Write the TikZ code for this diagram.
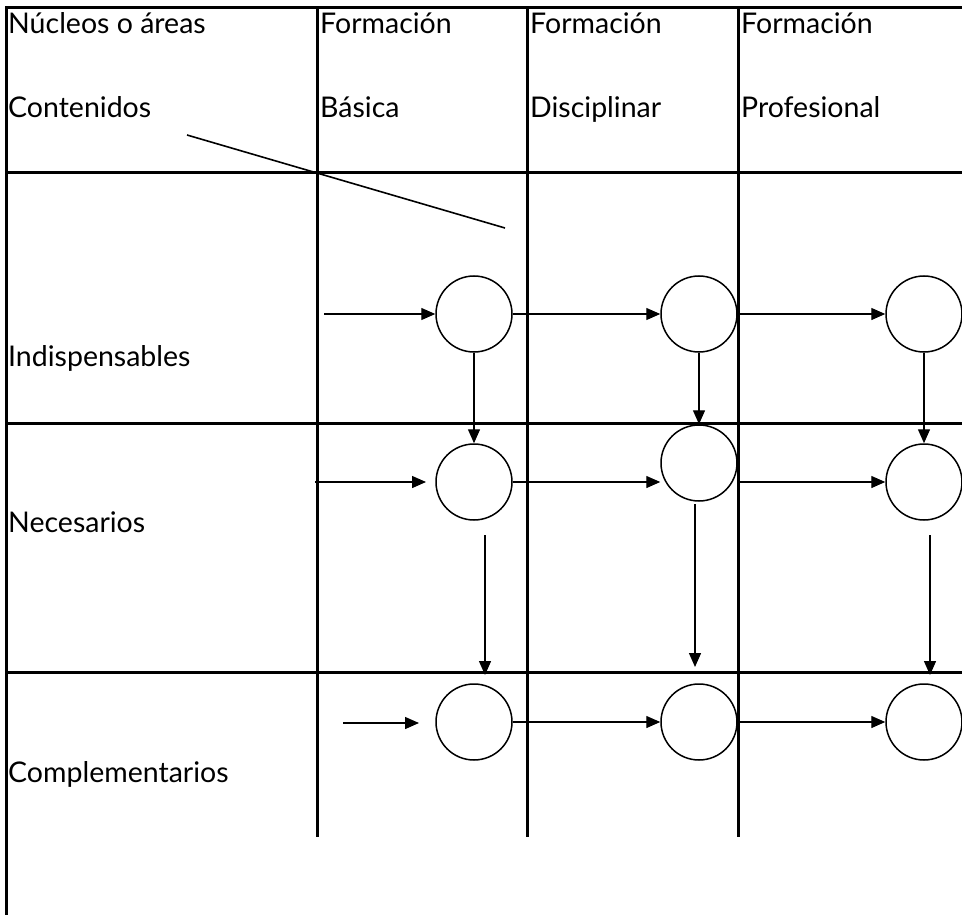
\documentclass[tikz,border=0pt]{standalone}
\usepackage{fontspec}
\setmainfont{Lato}
\usetikzlibrary{arrows.meta}

\begin{document}
\begin{tikzpicture}[x=1pt,y=-1pt,
  frame/.style={line width=3pt},
  etapa/.style={circle,draw,line width=1.5pt,minimum size=76pt,inner sep=0pt},
  flecha/.style={line width=1.4pt,-{Triangle[length=14pt,width=12pt]}},
  rotulo/.style={anchor=base west,inner sep=0pt,font=\fontsize{28.5}{32}\selectfont}]
\useasboundingbox (0,0) rectangle (962,915);
% table
\draw[frame] (6,915) -- (6,8) -- (962,8);
\foreach \x in {317,527,738} \draw[frame] (\x,8) -- (\x,837);
\foreach \y in {173,423,672} \draw[frame] (6,\y) -- (962,\y);
\draw[line width=1.6pt] (187,135) -- (505,228);
% headers
\node[rotulo] (nucleos) at (8,34) {Núcleos o áreas};
\node[rotulo] (contenidos) at (8,118) {Contenidos};
\node[rotulo] (f1) at (320,34) {Formación};
\node[rotulo] (basica) at (320,118) {Básica};
\node[rotulo] (f2) at (530,34) {Formación};
\node[rotulo] (disciplinar) at (530,118) {Disciplinar};
\node[rotulo] (f3) at (741,34) {Formación};
\node[rotulo] (profesional) at (741,118) {Profesional};
% rows
\node[rotulo] (indisp) at (8,366) {Indispensables};
\node[rotulo] (neces) at (8,532) {Necesarios};
\node[rotulo] (compl) at (8,782) {Complementarios};
% circles
\node[etapa] (c11) at (474,314) {};
\node[etapa] (c12) at (699,314) {};
\node[etapa] (c13) at (924,314) {};
\node[etapa] (c21) at (474,482) {};
\node[etapa] (c22) at (699,463) {};
\node[etapa] (c23) at (924,482) {};
\node[etapa] (c31) at (474,722) {};
\node[etapa] (c32) at (699,722) {};
\node[etapa] (c33) at (924,722) {};
% free ends
\coordinate (in1) at (324,314);
\coordinate (in2) at (315,482);
\coordinate (in2e) at (426,482);
\coordinate (in3) at (343,723);
\coordinate (in3e) at (419,723);
\coordinate (d1a) at (485,535);
\coordinate (d1b) at (485,675);
\coordinate (d2a) at (695,504);
\coordinate (d2b) at (695,667);
\coordinate (d3a) at (930,535);
\coordinate (d3b) at (930,675);
% arrows
\draw[flecha] (in1) -- (c11);
\draw[flecha] (c11) -- (c12);
\draw[flecha] (c12) -- (c13);
\draw[flecha] (in2) -- (in2e);
\draw[flecha] (c21.east) -- (c22.west |- c21.east);
\draw[flecha] (c22.east |- c23.west) -- (c23.west);
\draw[flecha] (in3) -- (in3e);
\draw[flecha] (c31) -- (c32);
\draw[flecha] (c32) -- (c33);
\draw[flecha] (c11) -- (c21);
\draw[flecha] (c12) -- (c22);
\draw[flecha] (c13) -- (c23);
\draw[flecha] (d1a) -- (d1b);
\draw[flecha] (d2a) -- (d2b);
\draw[flecha] (d3a) -- (d3b);
\end{tikzpicture}
\end{document}
